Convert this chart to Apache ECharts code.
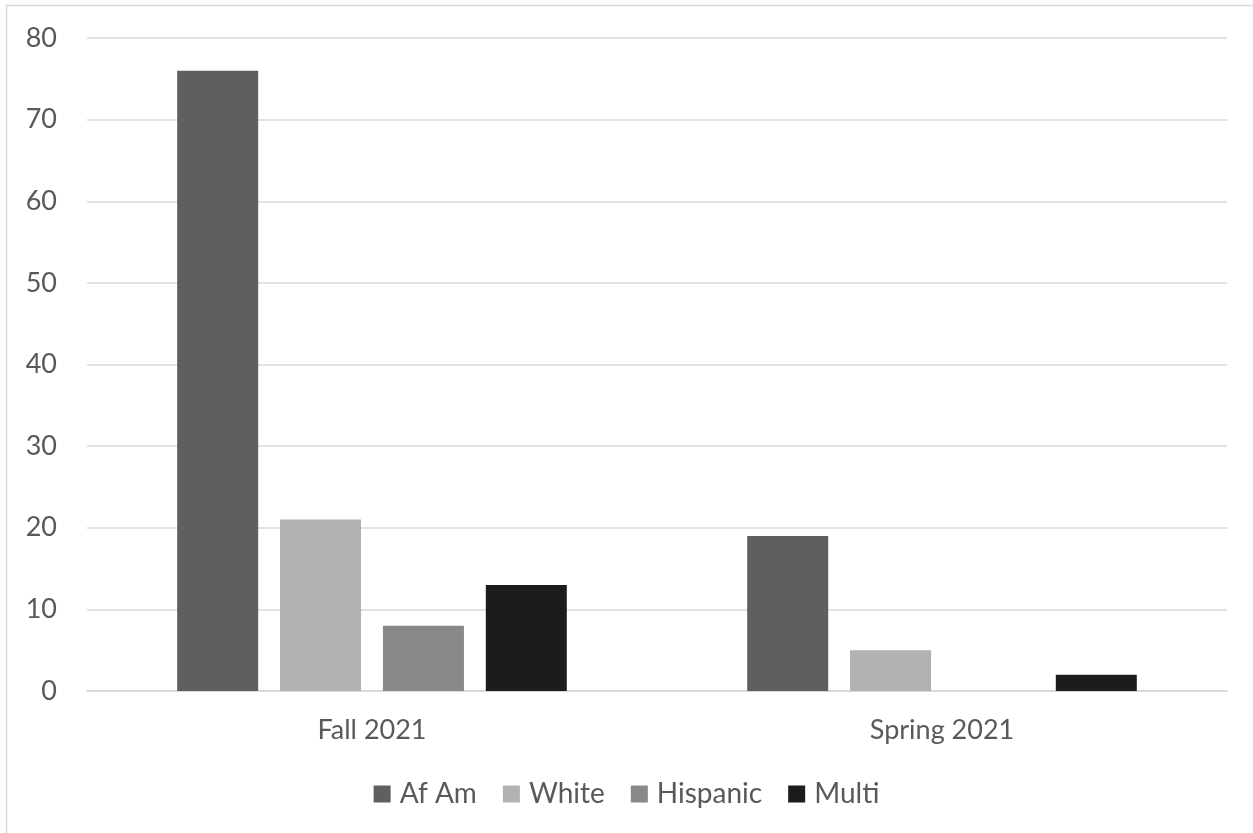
<!DOCTYPE html>
<html>
<head>
<meta charset="utf-8">
<script src="https://cdn.jsdelivr.net/npm/echarts@6/dist/echarts.min.js"></script>
<style>
  html, body { margin: 0; padding: 0; background: #fff; }
  #chart { width: 1253px; height: 833px; }
</style>
</head>
<body>
<div id="chart"></div>
<script>
// Enrollment counts by group for each term
const terms = ['Fall 2021', 'Spring 2021'];
const afAm = [76, 19];
const white = [21, 5];
const hispanic = [8, 0];
const multi = [13, 2];
const yTicks = { min: 0, max: 80, interval: 10 };

const FONT = 'Lato, "Open Sans", sans-serif';
const TEXT = '#595959';

const chart = echarts.init(document.getElementById('chart'), null, { renderer: 'canvas' });

function bar(name, data, color) {
  return {
    name: name,
    type: 'bar',
    data: data,
    barWidth: 81,
    barGap: '27%',
    itemStyle: { color: color },
    emphasis: { disabled: true }
  };
}

chart.setOption({
  animation: false,
  backgroundColor: '#ffffff',
  graphic: [{
    type: 'rect',
    shape: { x: 6.5, y: 5.5, width: 1260, height: 850 },
    style: { fill: 'none', stroke: '#d9d9d9', lineWidth: 1.5 },
    silent: true
  }],
  grid: { left: 87, right: 26, top: 38, bottom: 142 },
  legend: {
    bottom: 20,
    left: 'center',
    itemWidth: 17,
    itemHeight: 17,
    itemGap: 26,
    icon: 'rect',
    textStyle: { color: TEXT, fontSize: 28, fontFamily: FONT, padding: [0, 0, 0, 4] },
    data: ['Af Am', 'White', 'Hispanic', 'Multi']
  },
  xAxis: {
    type: 'category',
    data: terms,
    axisLine: { show: true, lineStyle: { color: '#d9d9d9', width: 2 } },
    axisTick: { show: false },
    axisLabel: { color: TEXT, fontSize: 27, fontFamily: FONT, margin: 26 }
  },
  yAxis: {
    type: 'value',
    min: yTicks.min,
    max: yTicks.max,
    interval: yTicks.interval,
    axisLine: { show: false },
    axisTick: { show: false },
    splitLine: { lineStyle: { color: '#d9d9d9', width: 1.5 } },
    axisLabel: { color: TEXT, fontSize: 27, fontFamily: FONT, margin: 30 }
  },
  series: [
    bar('Af Am', afAm, '#5f5f5f'),
    bar('White', white, '#b2b2b2'),
    bar('Hispanic', hispanic, '#898989'),
    bar('Multi', multi, '#1c1c1c')
  ]
});
</script>
</body>
</html>
